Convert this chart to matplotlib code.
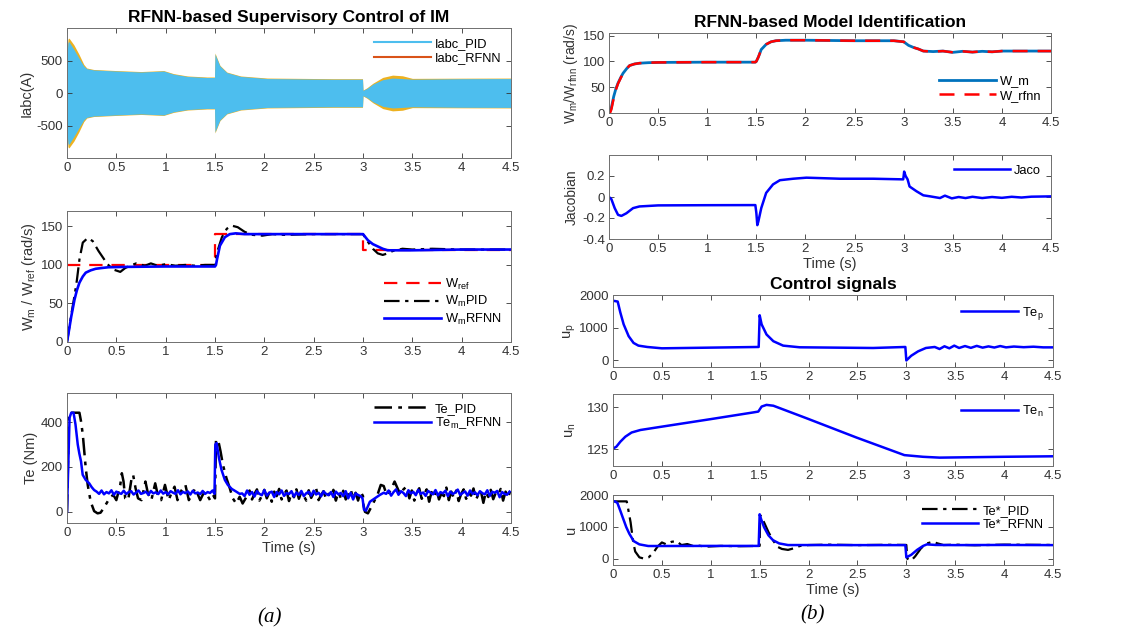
import numpy as np
import matplotlib
matplotlib.use("Agg")
import matplotlib.pyplot as plt
from matplotlib.ticker import FuncFormatter

plt.rcParams['font.family'] = ['Liberation Sans', 'DejaVu Sans']
plt.rcParams['mathtext.fontset'] = 'custom'
plt.rcParams['mathtext.rm'] = 'Liberation Sans'
plt.rcParams['mathtext.it'] = 'Liberation Sans'
plt.rcParams['mathtext.default'] = 'regular'
plt.rcParams['axes.unicode_minus'] = False

# --- (a) stator current envelopes ---
t_env = [0.0, 0.01, 0.02, 0.07, 0.12, 0.17, 0.20, 0.27, 0.50, 0.75,
         0.98, 1.08, 1.22, 1.42, 1.495, 1.50, 1.51, 1.55, 1.62, 1.76,
         2.03, 2.70, 2.995, 3.0, 3.04, 3.10, 3.20, 3.30, 3.40, 3.50, 4.00, 4.50]
iabc_pid_env = [600, 780, 790, 670, 540, 415, 375, 355, 338, 323,
                338, 290, 255, 238, 238, 600, 560, 415, 315, 255,
                222, 212, 212, 40, 70, 136, 205, 230, 222, 212, 220, 222]
iabc_rfnn_env = [620, 830, 845, 740, 600, 440, 385, 362, 345, 330,
                 345, 298, 262, 246, 246, 615, 575, 425, 322, 262,
                 230, 220, 220, 45, 80, 150, 240, 275, 265, 225, 228, 230]

# --- (a) speed ---
t_ref = [0, 1.5, 1.5, 3.0, 3.0, 4.5]
w_ref = [100, 100, 140, 140, 120, 120]
t_wpid = [0, 0.04, 0.076, 0.1, 0.126, 0.16, 0.21, 0.26, 0.32, 0.41,
          0.47, 0.54, 0.59, 0.64, 0.70, 0.79, 0.85, 0.92, 1.0, 1.1,
          1.2, 1.3, 1.4, 1.5, 1.52, 1.57, 1.62, 1.67, 1.73, 1.80,
          1.88, 1.98, 2.08, 2.2, 2.5, 2.8, 3.0, 3.05, 3.1, 3.15,
          3.2, 3.25, 3.3, 3.4, 3.5, 3.7, 4.0, 4.5]
w_pid = [0, 33, 60, 80, 107, 129, 135, 131, 118, 101,
         94, 91, 96, 99, 102, 99, 102, 99, 101, 99,
         100, 99, 100, 100, 116, 136, 147, 151, 149, 143,
         139, 138, 140, 139, 140, 140, 140, 130, 121, 115,
         113, 115, 118, 121, 120, 121, 120, 120]
t_wrf = [0, 0.02, 0.043, 0.076, 0.1, 0.126, 0.16, 0.19, 0.24, 0.29,
         0.35, 0.42, 0.6, 1.0, 1.5, 1.51, 1.52, 1.55, 1.6, 1.65,
         1.71, 1.8, 2.0, 2.5, 3.0, 3.05, 3.1, 3.15, 3.2, 3.25,
         3.5, 4.0, 4.5]
w_rf = [0, 15, 33, 55, 67, 77, 85, 90, 93, 95,
        96, 97, 97.5, 98, 98, 100, 107, 125, 136, 140,
        141, 140, 140, 140, 140, 132, 127, 124, 121, 119,
        119, 120, 120]

# --- (a) torque ---
t_tepid_a = [0, 0.02, 0.126, 0.142, 0.16, 0.175, 0.19, 0.21, 0.24, 0.275,
             0.31, 0.34, 0.37, 0.41, 0.44, 0.47, 0.5, 0.54, 0.556, 0.573,
             0.59, 0.62, 0.655, 0.67, 0.695, 0.72, 0.755, 0.795, 0.82, 0.855,
             0.894, 0.92, 0.954, 0.993, 1.03, 1.06, 1.09, 1.12, 1.16, 1.2,
             1.235, 1.27, 1.3, 1.35, 1.375, 1.4, 1.45, 1.48, 1.5, 1.51,
             1.533, 1.556, 1.58, 1.616, 1.65, 1.68, 1.715, 1.75, 1.78, 1.83]
te_pid_a = [0, 442, 442, 404, 345, 270, 195, 120, 45, 3,
            -7, -4, 15, 45, 67, 75, 52, 120, 172, 135,
            60, 52, 150, 165, 105, 60, 52, 135, 82, 52,
            127, 75, 52, 120, 52, 85, 112, 52, 95, 120,
            52, 80, 105, 52, 75, 90, 52, 75, 60, 322,
            318, 270, 210, 150, 105, 60, 37, 67, 37, 75]
te_pid_b = [95, 55, 80, 100, 50, 72, 98, 60, 85, 45, 90, 70, 102, 55, 78, 95,
            48, 82, 65, 100, 58, 88, 72, 50, 96, 62, 84, 105, 52, 75, 92, 58,
            80, 68, 98, 50, 86, 62, 94, 55, 78, 100, 60, 85, 50, 90, 70]
t_tepid_c = [3.0, 3.02, 3.05, 3.1, 3.15, 3.18, 3.21, 3.24, 3.28, 3.32, 3.35, 3.38, 3.41, 3.44]
te_pid_c = [40, 0, -7, 35, 80, 120, 115, 75, 95, 135, 105, 75, 100, 112]
te_pid_d = [60, 95, 50, 85, 105, 58, 78, 100, 45, 88, 65, 98, 55, 82, 70, 108,
            52, 90, 62, 95, 48, 80, 100, 58, 86, 72, 104, 54, 78, 92, 40, 88,
            66, 98, 56, 84, 74, 102, 50, 90, 64, 96]

t_terf_a = [0, 0.026, 0.043, 0.066, 0.086, 0.109, 0.125, 0.142, 0.159, 0.19, 0.225, 0.25, 0.275]
te_rf_a = [0, 420, 442, 442, 390, 300, 260, 225, 165, 142, 127, 110, 97]
te_rf_p1 = [90, 80, 95, 78, 88, 82, 96, 76, 90, 84, 80, 94, 79, 88, 92, 77,
            86, 95, 80, 84, 90, 76, 93, 82, 87, 79, 95, 81, 88, 78, 92, 85,
            80, 96, 78, 89, 83, 91, 77, 94, 82, 86, 79, 93, 80, 88, 84, 95]
t_terf_b = [1.495, 1.503, 1.516, 1.54, 1.566, 1.6, 1.63, 1.67, 1.715, 1.75]
te_rf_b = [80, 300, 307, 240, 187, 142, 120, 102, 90, 80]
te_rf_p2 = [82, 70, 95, 76, 88, 68, 92, 80, 74, 97, 72, 85, 90, 66, 88, 78,
            95, 71, 84, 79, 92, 68, 86, 75, 93, 70, 83, 89, 72, 94, 77, 85,
            69, 91, 80, 74, 88, 66, 90, 78, 84, 70, 92, 60, 85, 55, 82, 75, 70]
t_terf_c = [2.995, 3.01, 3.03, 3.07, 3.12, 3.17, 3.21]
te_rf_c = [60, 10, 5, 45, 60, 75, 85]
te_rf_p3 = [80, 95, 72, 88, 100, 76, 92, 84, 70, 96, 82, 89, 74, 98, 80, 86,
            71, 93, 85, 78, 97, 73, 88, 82, 94, 70, 90, 79, 86, 99, 75, 84,
            91, 72, 95, 80, 87, 74, 92, 83, 78, 96, 71, 89, 85, 93, 65, 88,
            80, 76, 90]
dt_noise = 0.025

# --- (b) model identification ---
t_id = [0, 0.012, 0.024, 0.048, 0.07, 0.092, 0.12, 0.143, 0.18, 0.21,
        0.26, 0.31, 0.4, 0.5, 1.0, 1.49, 1.5, 1.52, 1.55, 1.6,
        1.65, 1.7, 1.8, 2.0, 2.5, 2.9, 3.0, 3.05, 3.1, 3.15,
        3.2, 3.3, 3.4, 3.5, 3.6, 3.7, 3.8, 3.9, 4.0, 4.2, 4.5]
w_m_id = [0, 4, 10, 32, 47, 58, 69, 77, 86, 92,
          95, 96.5, 97.5, 98, 98.5, 98.5, 100, 108, 123, 133,
          138, 140, 141, 141, 140, 140, 138, 131, 127, 124,
          120, 119, 120, 117.5, 119.5, 118, 119.5, 118.5, 120, 120, 120]
w_rfnn_id = [0, 1, 7, 29, 45, 57, 68, 77, 86, 92,
             95, 96.5, 97.5, 98, 98.5, 98.5, 100, 108, 123, 133,
             138, 140, 141, 141, 140, 140, 138, 131, 127, 124,
             120, 119, 120, 117.5, 119.5, 118, 119.5, 118.5, 120, 120, 120]

t_jac = [0, 0.024, 0.058, 0.092, 0.126, 0.177, 0.245, 0.31, 0.5, 1.0,
         1.49, 1.5, 1.51, 1.52, 1.55, 1.6, 1.67, 1.74, 1.875, 2.01,
         2.35, 2.69, 2.995, 3.0, 3.005, 3.02, 3.04, 3.06, 3.13, 3.2,
         3.27, 3.37, 3.42, 3.49, 3.56, 3.63, 3.7, 3.8, 3.9, 4.0,
         4.1, 4.2, 4.3, 4.5]
jaco = [0, -0.02, -0.106, -0.17, -0.18, -0.155, -0.106, -0.09, -0.08, -0.078,
        -0.077, -0.15, -0.268, -0.235, -0.106, 0.039, 0.12, 0.16, 0.174, 0.184,
        0.174, 0.174, 0.168, 0.2, 0.242, 0.2, 0.168, 0.1, 0.055, 0.016,
        0.006, -0.01, 0.013, -0.013, 0.0, -0.01, 0.002, -0.01, 0.0, -0.008,
        0.002, -0.005, 0.003, 0.006]

# --- (b) control signals ---
t_up = [0, 0.048, 0.075, 0.109, 0.16, 0.21, 0.26, 0.35, 0.5, 1.0,
        1.49, 1.5, 1.52, 1.57, 1.64, 1.74, 1.91, 2.66, 2.99, 3.0,
        3.05, 3.12, 3.2, 3.29, 3.34, 3.39, 3.44, 3.49, 3.54, 3.6,
        3.66, 3.72, 3.78, 3.84, 3.9, 3.96, 4.02, 4.1, 4.2, 4.3, 4.4, 4.5]
u_p = [1825, 1800, 1464, 1103, 742, 536, 453, 412, 371, 392,
       412, 1381, 1103, 794, 588, 453, 402, 381, 412, 0,
       144, 278, 381, 412, 350, 433, 371, 453, 381, 440,
       385, 445, 392, 430, 395, 440, 400, 425, 405, 420, 400, 400]

t_un = [0, 0.034, 0.075, 0.126, 0.19, 0.28, 0.5, 1.0, 1.435, 1.486,
        1.52, 1.57, 1.64, 1.98, 2.49, 2.98, 3.17, 3.34, 4.0, 4.5]
u_n = [125.08, 125.3, 125.9, 126.5, 127.0, 127.3, 127.7, 128.6, 129.4, 129.5,
       130.1, 130.3, 130.2, 128.7, 126.4, 124.3, 124.1, 124.0, 124.1, 124.16]

t_upid = [0, 0.14, 0.15, 0.18, 0.206, 0.227, 0.27, 0.318, 0.364, 0.41,
          0.455, 0.5, 0.545, 0.6, 0.65, 0.7, 0.76, 0.82, 0.88, 0.95,
          1.1, 1.3, 1.5, 1.505, 1.545, 1.59, 1.636, 1.68, 1.727, 1.79,
          1.85, 1.91, 2.0, 2.2, 2.5, 2.8, 3.0, 3.01, 3.05, 3.09,
          3.15, 3.21, 3.27, 3.32, 3.38, 3.5, 3.7, 4.0, 4.5]
u_pid = [1800, 1800, 1650, 1140, 530, 224, 40, 0, 40, 173,
         376, 509, 448, 530, 550, 427, 458, 397, 407, 376,
         400, 390, 400, 1370, 1140, 834, 580, 376, 305, 275,
         325, 397, 427, 440, 425, 435, 430, 0, -60, 71,
         325, 478, 530, 478, 427, 440, 420, 440, 430]
t_urf = [0, 0.02, 0.045, 0.076, 0.106, 0.136, 0.167, 0.212, 0.27, 0.36,
         0.5, 1.0, 1.49, 1.5, 1.515, 1.545, 1.59, 1.636, 1.7, 1.79,
         2.0, 2.5, 2.99, 3.0, 3.05, 3.11, 3.17, 3.21, 3.3, 3.5, 4.0, 4.5]
u_rf = [1800, 1800, 1750, 1495, 1240, 987, 783, 550, 448, 397,
        397, 400, 400, 1394, 1240, 987, 732, 580, 478, 427,
        427, 425, 425, 40, 120, 275, 397, 448, 430, 425, 430, 425]


def grid_t(start, vals):
    return start + dt_noise * np.arange(len(vals))


t_te_pid = np.concatenate([t_tepid_a, grid_t(1.85, te_pid_b), t_tepid_c, grid_t(3.47, te_pid_d)])
te_pid = np.concatenate([te_pid_a, te_pid_b, te_pid_c, te_pid_d])
t_te_rf = np.concatenate([t_terf_a, grid_t(0.30, te_rf_p1), t_terf_b, grid_t(1.775, te_rf_p2),
                          t_terf_c, grid_t(3.235, te_rf_p3)])
te_rf = np.concatenate([te_rf_a, te_rf_p1, te_rf_b, te_rf_p2, te_rf_c, te_rf_p3])
keep = t_te_pid <= 4.5
t_te_pid, te_pid = t_te_pid[keep], te_pid[keep]
keep = t_te_rf <= 4.5
t_te_rf, te_rf = t_te_rf[keep], te_rf[keep]

BLUE = '#0000FF'
GREY = '#333333'
DASHDOT = (0, (7, 2.5, 1.5, 2.5))
DASHED = (0, (6, 4))
W, H = 1126, 630


def box(px):
    l, t, r, b = px
    return [l / W, 1 - b / H, (r - l) / W, (b - t) / H]


def style(ax, ylim, yticks):
    ax.set_xlim(0, 4.5)
    ax.set_ylim(*ylim)
    ax.set_xticks(np.arange(0, 4.51, 0.5))
    ax.set_yticks(yticks)
    fmt = FuncFormatter(lambda v, p: '%g' % round(v, 6))
    ax.xaxis.set_major_formatter(fmt)
    ax.yaxis.set_major_formatter(fmt)
    ax.tick_params(direction='in', top=True, right=True, length=3.5, width=0.6,
                   labelsize=9.5, colors=GREY, pad=3)
    for s in ax.spines.values():
        s.set_color('#6f6f6f')
        s.set_linewidth(0.7)


def legend(ax, **kw):
    opts = dict(frameon=False, fontsize=9.3, handlelength=4.4, labelspacing=0.2,
                handletextpad=0.3, borderaxespad=0.35)
    opts.update(kw)
    ax.legend(**opts)


fig = plt.figure(figsize=(11.26, 6.30), dpi=100)

# Iabc
ax1 = fig.add_axes(box((67, 28, 511, 158)))
ax1.fill_between(t_env, -np.array(iabc_rfnn_env), iabc_rfnn_env, color='#EDB120', lw=0)
ax1.fill_between(t_env, -np.array(iabc_pid_env), iabc_pid_env, color='#4DBEEE', lw=0)
ax1.plot([], [], color='#4DBEEE', lw=1.5, label='Iabc_PID')
ax1.plot([], [], color='#D95319', lw=1.5, label='Iabc_RFNN')
style(ax1, (-1000, 1000), [-500, 0, 500])
ax1.set_ylabel('Iabc(A)', fontsize=10.5, color=GREY, labelpad=2)
ax1.set_title('RFNN-based Supervisory Control of IM', fontsize=12.5, fontweight='bold', pad=4)
legend(ax1, loc='upper right')

# speed
ax2 = fig.add_axes(box((67, 211, 511, 342)))
ax2.plot(t_ref, w_ref, color='#FF0000', lw=1.6, ls=DASHED, label='W$_{ref}$')
ax2.plot(t_wpid, w_pid, color='black', lw=1.6, ls=DASHDOT, label='W$_m$PID')
ax2.plot(t_wrf, w_rf, color=BLUE, lw=1.9, label='W$_m$RFNN')
style(ax2, (0, 170), [0, 50, 100, 150])
ax2.set_ylabel('W$_m$ / W$_{ref}$ (rad/s)', fontsize=10.5, color=GREY, labelpad=2)
legend(ax2, loc='lower right', bbox_to_anchor=(1.0, 0.04))

# torque
ax3 = fig.add_axes(box((67, 393, 511, 523)))
ax3.plot(t_te_pid, te_pid, color='black', lw=1.8, ls=DASHDOT, label='Te_PID')
ax3.plot(t_te_rf, te_rf, color=BLUE, lw=1.8, label='Te$_m$_RFNN')
style(ax3, (-50, 530), [0, 200, 400])
ax3.set_ylabel('Te (Nm)', fontsize=10.5, color=GREY, labelpad=2)
ax3.set_xlabel('Time (s)', fontsize=10.5, color=GREY, labelpad=1)
legend(ax3, loc='upper right', labelspacing=0.05)

# identification speed
ax4 = fig.add_axes(box((609, 33, 1051, 113)))
ax4.plot(t_id, w_m_id, color='#0072BD', lw=2.0, label='W_m')
ax4.plot(t_id, w_rfnn_id, color='#FF0000', lw=1.8, ls=DASHED, label='W_rfnn')
style(ax4, (0, 155), [0, 50, 100, 150])
ax4.set_ylabel('W$_m$/W$_{rfnn}$ (rad/s)', fontsize=10, color=GREY, labelpad=2)
ax4.set_title('RFNN-based Model Identification', fontsize=12.5, fontweight='bold', pad=4)
legend(ax4, loc='lower right', bbox_to_anchor=(1.0, 0.02))

# jacobian
ax5 = fig.add_axes(box((609, 155, 1051, 239)))
ax5.plot(t_jac, jaco, color=BLUE, lw=1.8, label='Jaco')
style(ax5, (-0.4, 0.4), [-0.4, -0.2, 0, 0.2])
ax5.set_ylabel('Jacobian', fontsize=10, color=GREY, labelpad=2)
ax5.set_xlabel('Time (s)', fontsize=10.5, color=GREY, labelpad=1)
legend(ax5, loc='upper right')

# u_p
ax6 = fig.add_axes(box((613, 295, 1053, 367)))
ax6.plot(t_up, u_p, color=BLUE, lw=1.8, label='Te$_p$')
style(ax6, (-200, 2000), [0, 1000, 2000])
ax6.set_ylabel('u$_p$', fontsize=10.5, color=GREY, labelpad=1)
ax6.set_title('Control signals', fontsize=12.5, fontweight='bold', pad=4)
legend(ax6, loc='upper right')

# u_n
ax7 = fig.add_axes(box((613, 394, 1053, 466)))
ax7.plot(t_un, u_n, color=BLUE, lw=1.8, label='Te$_n$')
style(ax7, (123, 131.6), [125, 130])
ax7.set_ylabel('u$_n$', fontsize=10.5, color=GREY, labelpad=6)
legend(ax7, loc='upper right')

# u
ax8 = fig.add_axes(box((613, 495, 1053, 565)))
ax8.plot(t_upid, u_pid, color='black', lw=1.6, ls=DASHDOT, label='Te*_PID')
ax8.plot(t_urf, u_rf, color=BLUE, lw=1.8, label='Te*_RFNN')
style(ax8, (-200, 2000), [0, 1000, 2000])
ax8.set_ylabel('u', fontsize=10.5, color=GREY, labelpad=1)
ax8.set_xlabel('Time (s)', fontsize=10.5, color=GREY, labelpad=1)
legend(ax8, loc='upper right', labelspacing=0.1)

fig.text(270 / W, 1 - 618 / H, '(a)', fontsize=15, style='italic',
         family=['Liberation Serif', 'DejaVu Serif'], ha='center', va='center')
fig.text(813 / W, 1 - 615 / H, '(b)', fontsize=15, style='italic',
         family=['Liberation Serif', 'DejaVu Serif'], ha='center', va='center')

fig.savefig('out.png', dpi=100)
